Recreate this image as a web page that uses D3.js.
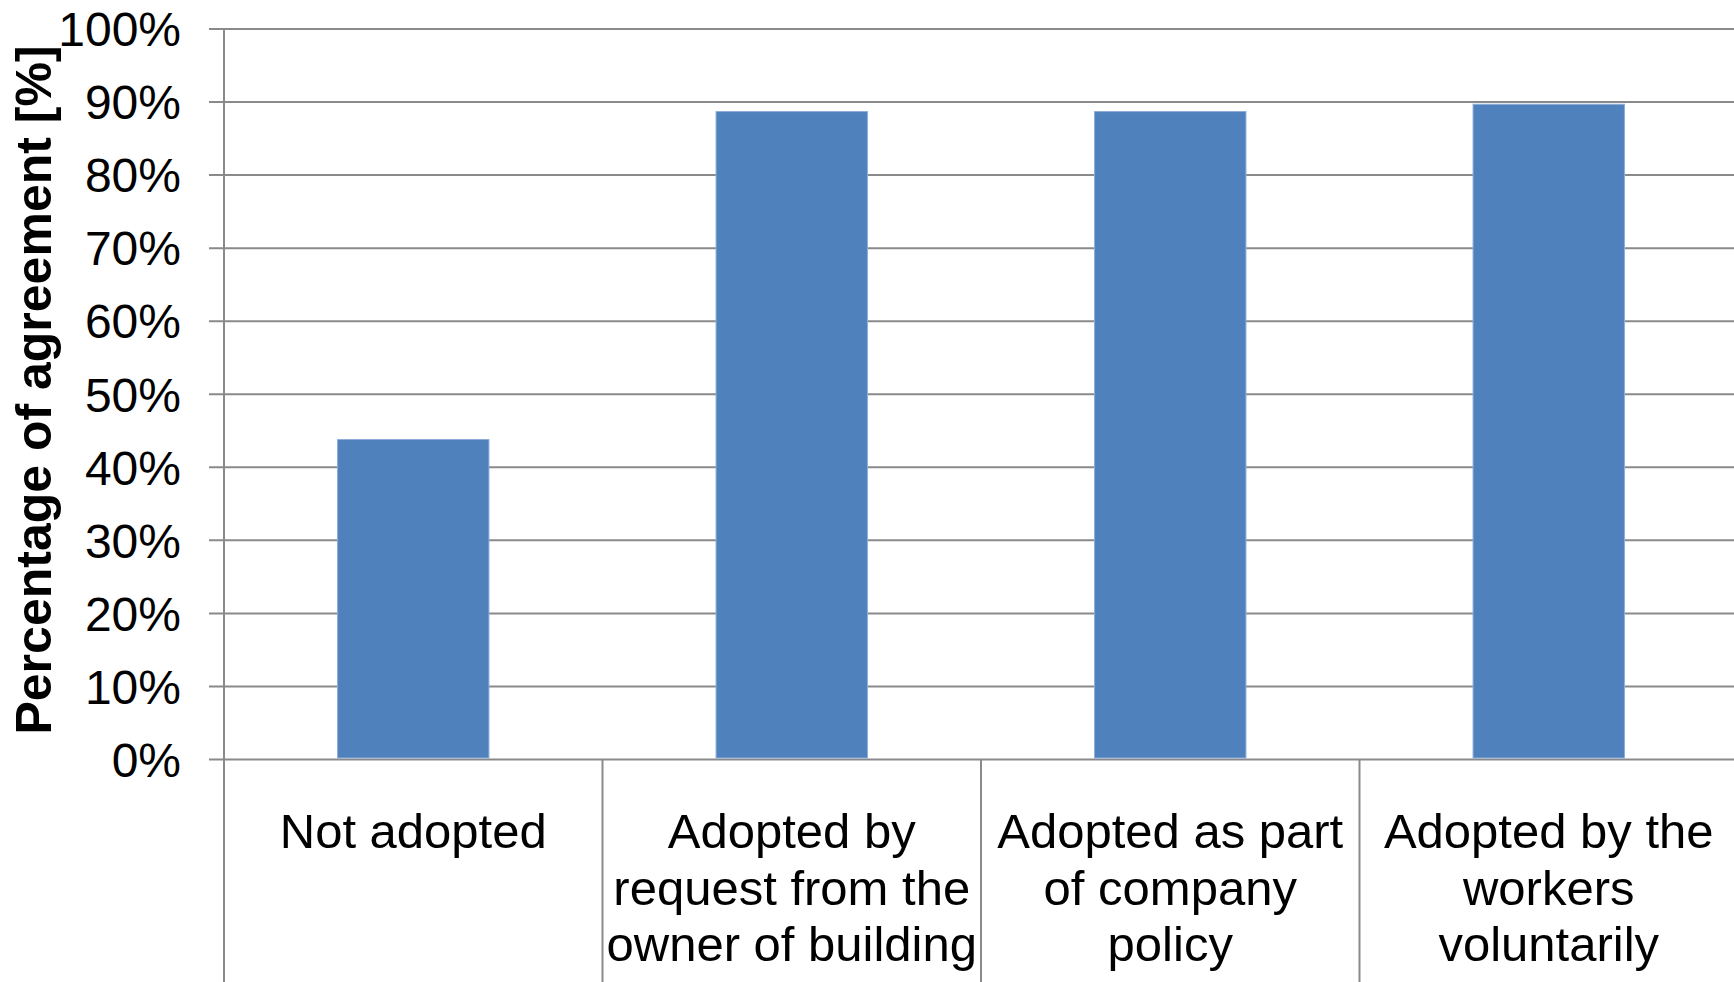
<!DOCTYPE html>
<html>
<head>
<meta charset="utf-8">
<script src="https://cdn.jsdelivr.net/npm/d3@7"></script>
<style>
  html, body { margin: 0; padding: 0; background: #fff; }
  svg { display: block; }
  text { font-family: "Liberation Sans", Arial, sans-serif; fill: #000; }
</style>
</head>
<body>
<div id="chart"></div>
<script>
// Chart data
var categories = [
  ["Not adopted"],
  ["Adopted by", "request from the", "owner of building"],
  ["Adopted as part", "of company", "policy"],
  ["Adopted by the", "workers", "voluntarily"]
];
var values = [43.8, 88.7, 88.7, 89.7];
var yTicks = [0, 10, 20, 30, 40, 50, 60, 70, 80, 90, 100];

// Chart set up
var svgWidth = 1734;
var svgHeight = 982;

var plotLeft = 224;
var plotRight = 1738;
var plotTop = 29;
var plotBottom = 759.5;

var svg = d3.select("#chart")
  .append("svg")
  .attr("width", svgWidth)
  .attr("height", svgHeight);

// Scales
var xBandScale = d3.scaleBand()
  .domain(d3.range(categories.length))
  .range([plotLeft, plotRight])
  .paddingInner(0.6)
  .paddingOuter(0.3);

var yLinearScale = d3.scaleLinear()
  .domain([0, 100])
  .range([plotBottom, plotTop]);

var lineColor = "#8a8a8a";

// Gridlines with left ticks
svg.append("g")
  .selectAll("line")
  .data(yTicks)
  .enter()
  .append("line")
  .attr("x1", plotLeft - 15)
  .attr("x2", svgWidth)
  .attr("y1", d => yLinearScale(d))
  .attr("y2", d => yLinearScale(d))
  .attr("stroke", lineColor)
  .attr("stroke-width", 2);

// Tick labels
svg.append("g")
  .selectAll("text")
  .data(yTicks)
  .enter()
  .append("text")
  .attr("x", 181)
  .attr("y", d => yLinearScale(d))
  .attr("dy", "0.36em")
  .attr("text-anchor", "end")
  .style("font-size", "48px")
  .text(d => d + "%");

// Bars
svg.append("g")
  .selectAll("rect")
  .data(values)
  .enter()
  .append("rect")
  .attr("x", (d, i) => xBandScale(i))
  .attr("width", xBandScale.bandwidth())
  .attr("y", d => yLinearScale(d))
  .attr("height", d => yLinearScale(0) - 1.5 - yLinearScale(d))
  .attr("fill", "#4f81bd")
  .attr("stroke", "#8eaedb")
  .attr("stroke-width", 1);

// Vertical axis line and category dividers below the axis
var step = xBandScale.step();
svg.append("line")
  .attr("x1", plotLeft).attr("x2", plotLeft)
  .attr("y1", plotTop).attr("y2", svgHeight)
  .attr("stroke", lineColor)
  .attr("stroke-width", 2);

svg.append("g")
  .selectAll("line")
  .data(d3.range(1, categories.length))
  .enter()
  .append("line")
  .attr("x1", d => plotLeft + d * step)
  .attr("x2", d => plotLeft + d * step)
  .attr("y1", plotBottom)
  .attr("y2", svgHeight)
  .attr("stroke", lineColor)
  .attr("stroke-width", 2);

// Category labels
var catLabels = svg.append("g")
  .selectAll("text")
  .data(categories)
  .enter()
  .append("text")
  .attr("text-anchor", "middle")
  .style("font-size", "49px")
  .attr("x", (d, i) => xBandScale(i) + xBandScale.bandwidth() / 2)
  .attr("y", 848);

catLabels.selectAll("tspan")
  .data(d => d)
  .enter()
  .append("tspan")
  .attr("x", function() { return d3.select(this.parentNode).attr("x"); })
  .attr("dy", (d, i) => i === 0 ? 0 : 56.5)
  .text(d => d);

// Y axis title
svg.append("text")
  .attr("transform", "translate(51, 390) rotate(-90)")
  .attr("text-anchor", "middle")
  .style("font-size", "50px")
  .style("font-weight", "bold")
  .text("Percentage of agreement [%]");
</script>
</body>
</html>
